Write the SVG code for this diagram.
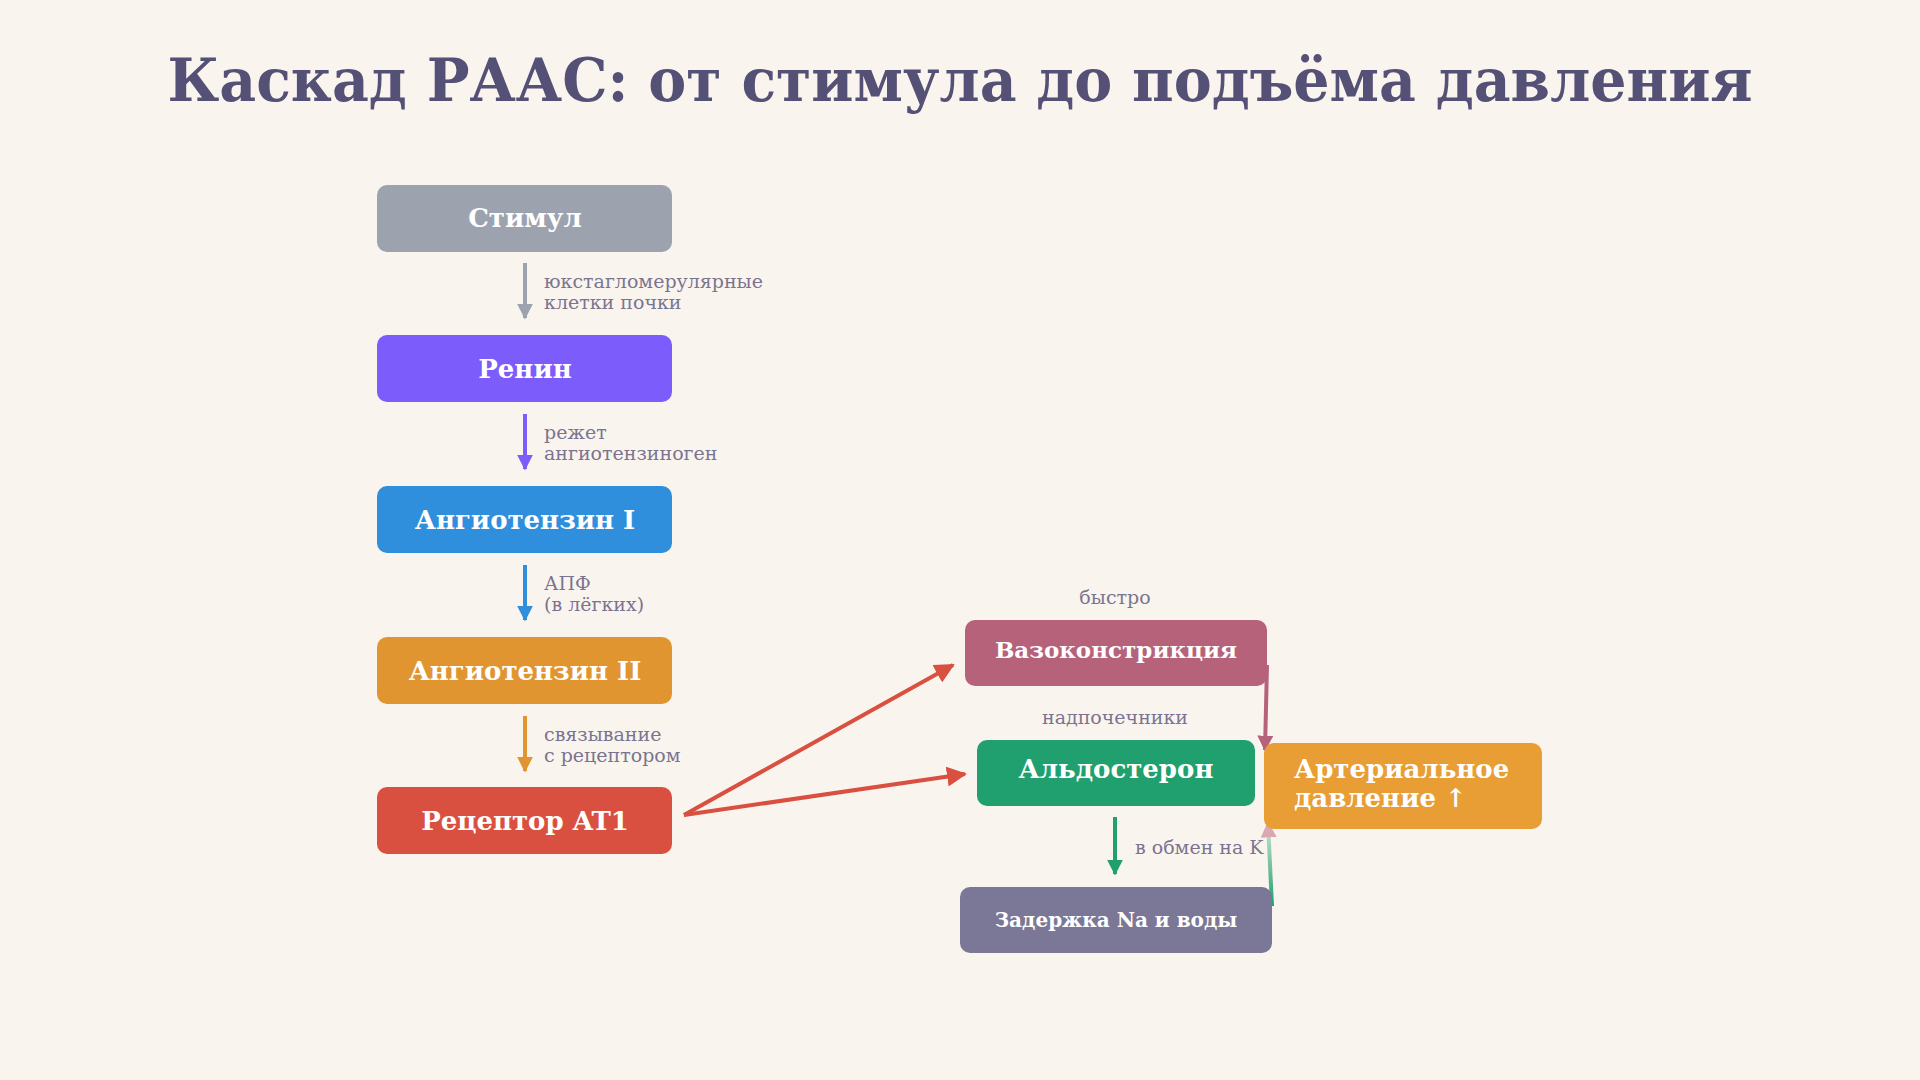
<svg xmlns="http://www.w3.org/2000/svg" width="1920" height="1080" viewBox="0 0 1920 1080">
<style>
.t{font-family:"DejaVu Serif","Liberation Serif",serif;font-weight:bold;fill:#fff;font-size:26px;text-anchor:middle}
.s{text-anchor:start}
.l{font-family:"DejaVu Serif","Liberation Serif",serif;fill:#7a7490;font-size:19px}
.c{fill:none;stroke-width:4}
</style>
<defs>
<marker id="mg" viewBox="0 0 10 10" refX="9" refY="5" markerWidth="4" markerHeight="4" orient="auto"><path d="M0,0L10,5L0,10z" fill="#9ca3af"/></marker>
<marker id="mv" viewBox="0 0 10 10" refX="9" refY="5" markerWidth="4" markerHeight="4" orient="auto"><path d="M0,0L10,5L0,10z" fill="#7c5cfa"/></marker>
<marker id="mb" viewBox="0 0 10 10" refX="9" refY="5" markerWidth="4" markerHeight="4" orient="auto"><path d="M0,0L10,5L0,10z" fill="#2f8fdc"/></marker>
<marker id="mo" viewBox="0 0 10 10" refX="9" refY="5" markerWidth="4" markerHeight="4" orient="auto"><path d="M0,0L10,5L0,10z" fill="#e09530"/></marker>
<marker id="mr" viewBox="0 0 10 10" refX="9" refY="5" markerWidth="5" markerHeight="5" orient="auto"><path d="M0,0L10,5L0,10z" fill="#d95040"/></marker>
<marker id="mp" viewBox="0 0 10 10" refX="9" refY="5" markerWidth="4" markerHeight="4" orient="auto"><path d="M0,0L10,5L0,10z" fill="#b5627a"/></marker>
<marker id="mgr" viewBox="0 0 10 10" refX="9" refY="5" markerWidth="4" markerHeight="4" orient="auto"><path d="M0,0L10,5L0,10z" fill="#20a06e"/></marker>
<marker id="ml" viewBox="0 0 10 10" refX="9" refY="5" markerWidth="4" markerHeight="4" orient="auto"><path d="M0,0L10,5L0,10z" fill="#d9a8b0"/></marker>
<linearGradient id="fade" x1="0" y1="1" x2="0" y2="0"><stop offset="0" stop-color="#20a06e"/><stop offset="1" stop-color="#20a06e" stop-opacity="0.2"/></linearGradient>
</defs>
<rect width="1920" height="1080" fill="#faf4ee"/>
<text x="960" y="101" font-family="DejaVu Serif,Liberation Serif,serif" font-weight="bold" font-size="60" fill="#555075" text-anchor="middle" textLength="1585" lengthAdjust="spacingAndGlyphs">Каскад РААС: от стимула до подъёма давления</text>
<g id="connectors">
<path class="c" d="M525 263V318" stroke="#9ca3af" marker-end="url(#mg)"/>
<path class="c" d="M525 414V469" stroke="#7c5cfa" marker-end="url(#mv)"/>
<path class="c" d="M525 565V620" stroke="#2f8fdc" marker-end="url(#mb)"/>
<path class="c" d="M525 716V771" stroke="#e09530" marker-end="url(#mo)"/>
<path class="c" d="M684 815L953 665" stroke="#d95040" stroke-width="5.5" marker-end="url(#mr)"/>
<path class="c" d="M684 815L965 774" stroke="#d95040" stroke-width="5.5" marker-end="url(#mr)"/>
<path class="c" d="M1267 665L1265 750" stroke="#b5627a" stroke-width="3.5" marker-end="url(#mp)"/>
<path class="c" d="M1115 817V874" stroke="#20a06e" marker-end="url(#mgr)"/>
<path class="c" d="M1272 906L1268 823" stroke="url(#fade)" marker-end="url(#ml)"/>
<g class="l">
<text x="544" y="288">юкстагломерулярные</text><text x="544" y="309">клетки почки</text>
<text x="544" y="439">режет</text><text x="544" y="460">ангиотензиноген</text>
<text x="544" y="590">АПФ</text><text x="544" y="611">(в лёгких)</text>
<text x="544" y="741">связывание</text><text x="544" y="762">с рецептором</text>
<text x="1115" y="604" text-anchor="middle">быстро</text>
<text x="1115" y="724" text-anchor="middle">надпочечники</text>
<text x="1135" y="854">в обмен на K</text>
</g>
</g>
<g id="n1"><rect x="377" y="185" width="295" height="67" rx="10" fill="#9ca3af"/><text class="t" x="525" y="227">Стимул</text></g>
<g id="n2"><rect x="377" y="335" width="295" height="67" rx="10" fill="#7c5cfa"/><text class="t" x="525" y="378">Ренин</text></g>
<g id="n3"><rect x="377" y="486" width="295" height="67" rx="10" fill="#2f8fdc"/><text class="t" x="525" y="529">Ангиотензин I</text></g>
<g id="n4"><rect x="377" y="637" width="295" height="67" rx="10" fill="#e09530"/><text class="t" x="525" y="680">Ангиотензин II</text></g>
<g id="n5"><rect x="377" y="787" width="295" height="67" rx="10" fill="#d95040"/><text class="t" x="525" y="830">Рецептор AT1</text></g>
<g id="n6"><rect x="965" y="620" width="302" height="66" rx="10" fill="#b5627a"/><text class="t" x="1116" y="658" style="font-size:23px">Вазоконстрикция</text></g>
<g id="n7"><rect x="977" y="740" width="278" height="66" rx="10" fill="#20a06e"/><text class="t" x="1116" y="778">Альдостерон</text></g>
<g id="n8"><rect x="1264" y="743" width="278" height="86" rx="10" fill="#e89d35"/><text class="t s" x="1294" y="778">Артериальное</text><text class="t s" x="1294" y="807">давление ↑</text></g>
<g id="n9"><rect x="960" y="887" width="312" height="66" rx="10" fill="#7b7796"/><text class="t" x="1116" y="927" style="font-size:20px">Задержка Na и воды</text></g>
</svg>
